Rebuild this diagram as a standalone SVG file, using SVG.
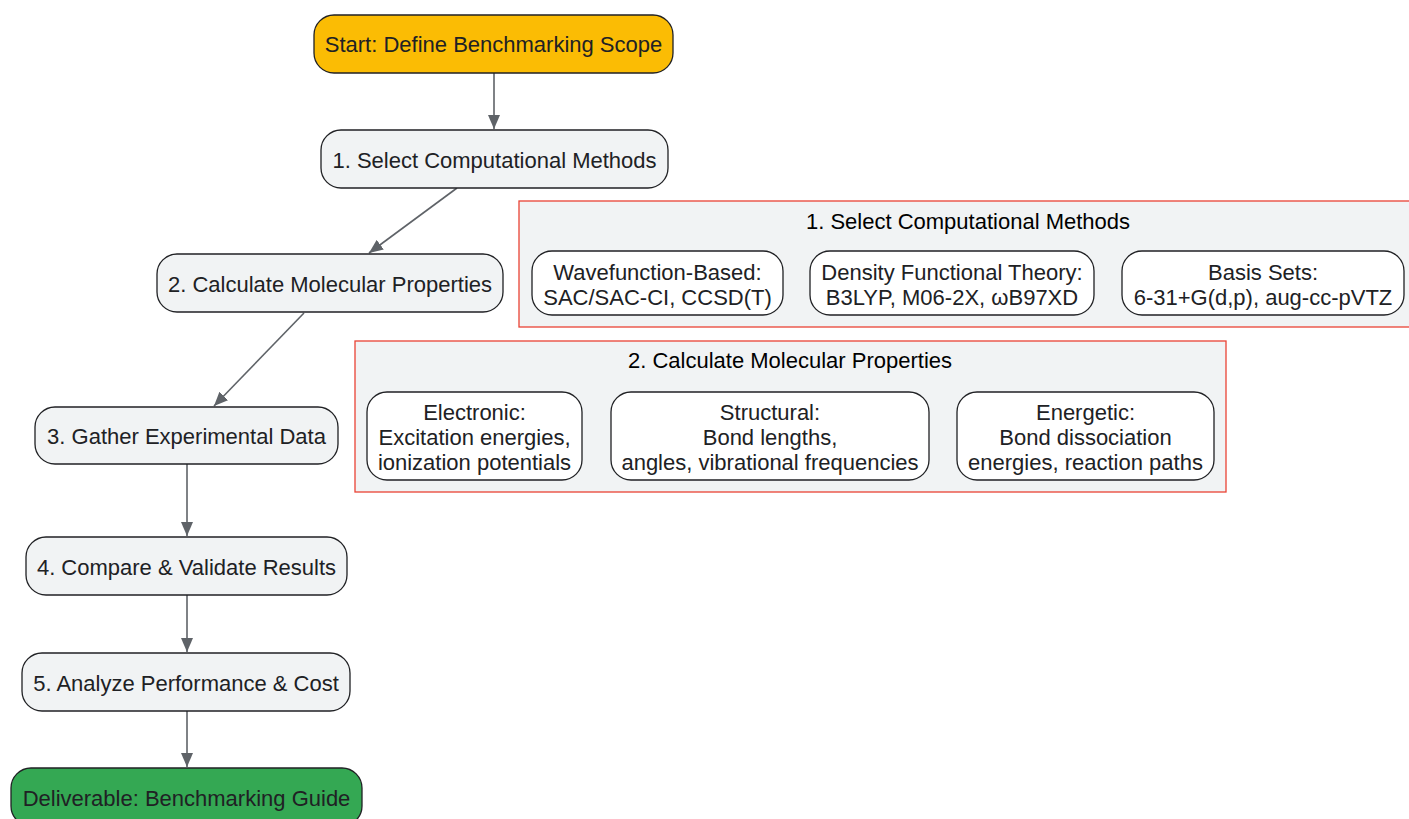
<svg xmlns="http://www.w3.org/2000/svg" width="1409" height="819" viewBox="0 0 1409 819">
<defs>
<marker id="ah" markerWidth="14" markerHeight="12" refX="14" refY="6" orient="auto" markerUnits="userSpaceOnUse">
<path d="M0,0 L14,6 L0,12 Z" fill="#5F6368"/>
</marker>
<style>
text{font-family:"Liberation Sans",Arial,sans-serif;font-size:22px;fill:#202124;text-anchor:middle}
.n{fill:#F1F3F4;stroke:#202124;stroke-width:1.3}
.w{fill:#FFFFFF;stroke:#202124;stroke-width:1.3}
.c{fill:#F1F3F4;stroke:#EA4335;stroke-width:1.3}
.e{stroke:#5F6368;stroke-width:1.6;fill:none;marker-end:url(#ah)}
.t{fill:#000}
</style>
</defs>
<rect width="1409" height="819" fill="#fff"/>
<g id="cluster1">
<rect class="c" x="519" y="201" width="898" height="126"/>
<text class="t" x="968" y="229">1. Select Computational Methods</text>
<g id="wf"><rect class="w" x="532" y="251" width="251" height="64" rx="20"/><text x="657.5" y="280">Wavefunction-Based:</text><text x="657.5" y="305">SAC/SAC-CI, CCSD(T)</text></g>
<g id="dft"><rect class="w" x="810" y="251" width="284" height="64" rx="20"/><text x="952" y="280">Density Functional Theory:</text><text x="952" y="305">B3LYP, M06-2X, ωB97XD</text></g>
<g id="basis"><rect class="w" x="1122" y="251" width="282" height="64" rx="20"/><text x="1263" y="280">Basis Sets:</text><text x="1263" y="305">6-31+G(d,p), aug-cc-pVTZ</text></g>
</g>
<g id="cluster2">
<rect class="c" x="355" y="341" width="871" height="151"/>
<text class="t" x="790" y="368">2. Calculate Molecular Properties</text>
<g id="elec"><rect class="w" x="367" y="392" width="215" height="88" rx="20"/><text x="474.5" y="420">Electronic:</text><text x="474.5" y="445">Excitation energies,</text><text x="474.5" y="470">ionization potentials</text></g>
<g id="struct"><rect class="w" x="611" y="392" width="318" height="88" rx="20"/><text x="770" y="420">Structural:</text><text x="770" y="445">Bond lengths,</text><text x="770" y="470">angles, vibrational frequencies</text></g>
<g id="ener"><rect class="w" x="957" y="392" width="257" height="88" rx="20"/><text x="1085.5" y="420">Energetic:</text><text x="1085.5" y="445">Bond dissociation</text><text x="1085.5" y="470">energies, reaction paths</text></g>
</g>
<g id="connectors">
<line class="e" x1="494" y1="73" x2="494" y2="129"/>
<line class="e" x1="457" y1="188" x2="369" y2="253"/>
<line class="e" x1="304" y1="313" x2="214" y2="406"/>
<line class="e" x1="187" y1="464" x2="187" y2="536"/>
<line class="e" x1="187" y1="595" x2="187" y2="652"/>
<line class="e" x1="187" y1="711" x2="187" y2="767"/>
</g>
<g id="start"><rect x="314" y="15" width="359" height="58" rx="20" fill="#FBBC04" stroke="#202124" stroke-width="1.3"/><text x="493.5" y="52">Start: Define Benchmarking Scope</text></g>
<g id="step1"><rect class="n" x="321" y="130" width="347" height="58" rx="20"/><text x="494.5" y="168">1. Select Computational Methods</text></g>
<g id="step2"><rect class="n" x="157" y="254" width="346" height="58" rx="20"/><text x="330" y="292">2. Calculate Molecular Properties</text></g>
<g id="step3"><rect class="n" x="35" y="407" width="303" height="57" rx="20"/><text x="186.5" y="444">3. Gather Experimental Data</text></g>
<g id="step4"><rect class="n" x="26" y="537" width="321" height="58" rx="20"/><text x="186.5" y="575">4. Compare &amp; Validate Results</text></g>
<g id="step5"><rect class="n" x="22" y="653" width="328" height="58" rx="20"/><text x="186" y="691">5. Analyze Performance &amp; Cost</text></g>
<g id="deliver"><rect x="11" y="768" width="351" height="58" rx="20" fill="#34A853" stroke="#202124" stroke-width="1.3"/><text x="186.5" y="806">Deliverable: Benchmarking Guide</text></g>
</svg>
